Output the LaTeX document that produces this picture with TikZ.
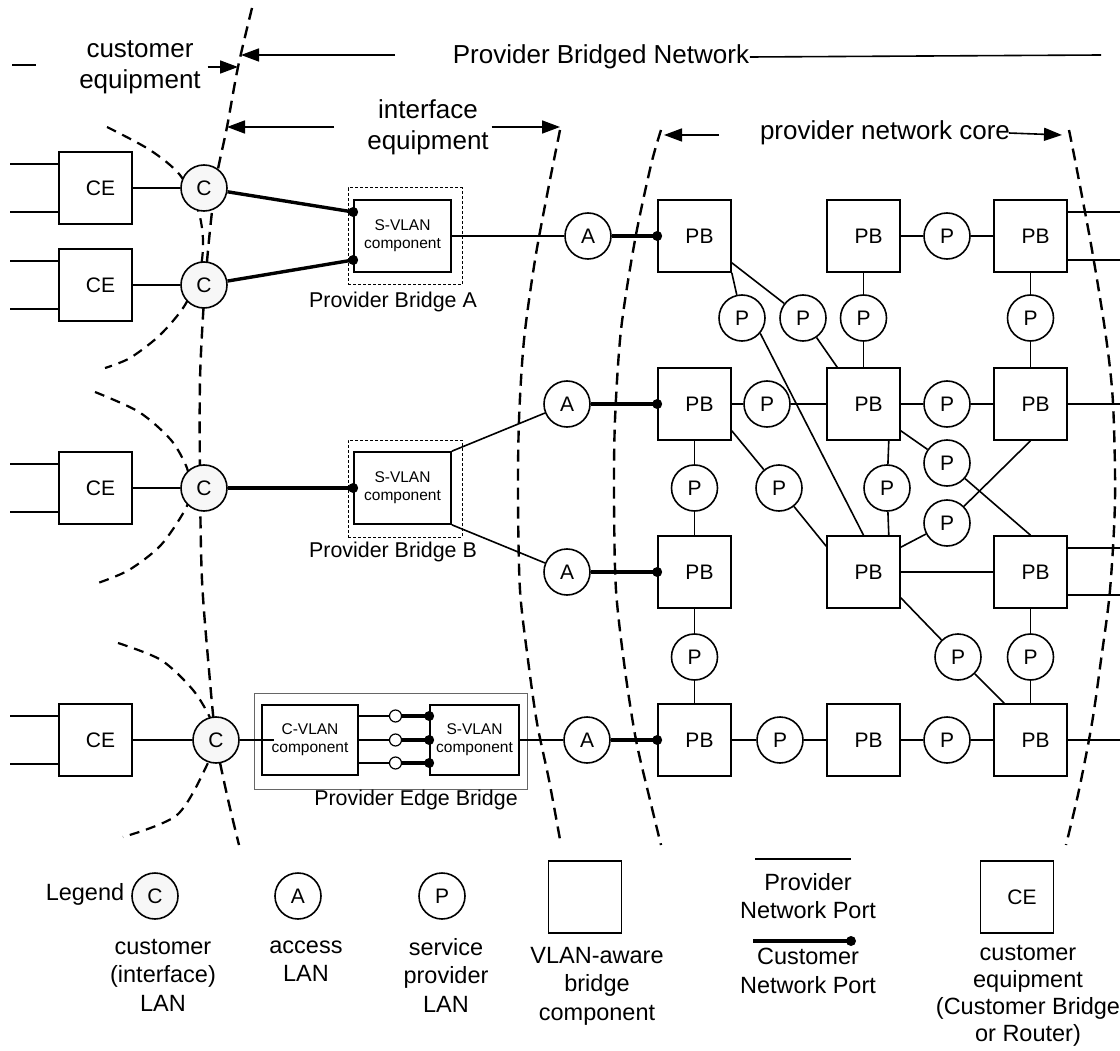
\documentclass[tikz,border=0pt]{standalone}
\usepackage{fontspec}
\setmainfont{Liberation Sans}
\usetikzlibrary{arrows.meta}
\newcommand{\fsz}[2]{\fontsize{#1}{#2}\selectfont}

\begin{document}
\begin{tikzpicture}[x=1pt, y=-1pt, line width=1.6pt, >={Triangle[length=18pt, width=13pt]},
        lan/.style={circle, draw, fill=white, minimum size=46pt, inner sep=0pt, font=\fsz{21}{21}},
        clan/.style={lan, fill=black!3},
        bridgebox/.style={draw, fill=white, minimum width=73pt, minimum height=72pt, inner sep=0pt, font=\fsz{21}{21}, execute at begin node=\hspace*{10pt}},
        vlanbox/.style={draw, fill=white, align=center, inner sep=0pt, font=\fsz{15.5}{18}},
        openport/.style={circle, draw, fill=white, line width=1.2pt, minimum size=12pt, inner sep=0pt},
        boundary/.style={line width=2.4pt, dash pattern=on 12pt off 7pt},
        lanedge/.style={line width=2.2pt, dash pattern=on 10pt off 7pt},
        cport/.style={line width=3.4pt},
        caption/.style={inner sep=0pt, font=\fsz{21.4}{21.4}},
        heading/.style={inner sep=0pt, align=center, font=\fsz{26}{31}},
        legendtext/.style={inner sep=0pt, align=center, font=\fsz{23.5}{28.5}}]
        \useasboundingbox (0,0) rectangle (1120,1051);

        % Region boundaries
        \draw[boundary] plot[smooth] coordinates {(252,8) (238,67) (227,127) (216,180) (209,240) (204,300) (200,380) (200,480) (202,580) (209,670) (216,740) (227,795) (239,845)};
        \draw[boundary] plot[smooth] coordinates {(560,130) (548,190) (535,260) (524,340) (519,420) (518,500) (520,590) (528,660) (537,723) (549,780) (561,845)};
        \draw[boundary] plot[smooth] coordinates {(661,130) (651,165) (635,240) (621,330) (615,420) (614,500) (616,590) (625,670) (636,740) (650,800) (661,845)};
        \draw[boundary] plot[smooth] coordinates {(1069,130) (1076,165) (1092,250) (1106,337) (1113,403) (1115,500) (1110,590) (1101,660) (1092,723) (1079,790) (1066,845)};

        % Customer LAN outlines
        \draw[lanedge] plot[smooth] coordinates {(107,127) (150,150) (180,175) (198,210) (203,240) (200,270) (185,305) (160,335) (130,358) (105,368)};
        \draw[lanedge] plot[smooth] coordinates {(95,392) (139,412) (171,440) (187,468) (190,488) (186,508) (161,545) (129,570) (98,583)};
        \draw[lanedge] plot[smooth] coordinates {(118,643) (161,660) (193,690) (211,720) (214,740) (207,765) (177,815) (123,837)};

        % Headings
        \node[heading] (custeq) at (140,67) {customer\\equipment};
        \node[heading] (pbn) at (601,57) {Provider Bridged Network};
        \node[heading] (ifeq) at (428,127) {interface\\equipment};
        \node[heading] (core) at (885,133) {provider network core};
        \coordinate (b1a) at (238,67);
        \coordinate (b1b) at (241,55);
        \coordinate (b1c) at (227,127);
        \coordinate (b2a) at (560,127);
        \coordinate (b3a) at (664,135);
        \coordinate (b4a) at (1062,135);
        \draw (12,65) -- (36,65);
        \draw[->] ([xshift=6pt]custeq.east) -- (b1a);
        \draw[->] (395,55) -- (b1b);
        \draw (pbn.east) -- (1101,55);
        \draw[->] (334,127) -- (b1c);
        \draw[->] ([xshift=2pt]ifeq.east) -- (b2a);
        \draw[->] (719,135) -- (b3a);
        \draw[->] ([xshift=-2pt]core.east) -- (b4a);

        % Customer equipment and customer LANs
        \node[bridgebox] (ce1) at (95.5,188) {CE};
        \node[bridgebox] (ce2) at (95.5,285) {CE};
        \node[bridgebox] (ce3) at (95.5,488) {CE};
        \node[bridgebox] (ce4) at (95.5,740) {CE};
        \node[clan] (c1) at (204,188) {C};
        \node[clan] (c2) at (204,285) {C};
        \node[clan] (c3) at (204,488) {C};
        \node[clan] (c4) at (216,740) {C};

        % Provider bridges at the edge
        \node[draw, line width=1pt, dash pattern=on 3pt off 2pt, minimum width=114pt, minimum height=97pt] (pbA) at (405,236.5) {};
        \node[vlanbox, minimum width=97pt, minimum height=72pt] (sA) at (402.5,236) {S-VLAN\\component};
        \node[caption] (capA) at (393,302) {Provider Bridge A};
        \node[draw, line width=1pt, dash pattern=on 3pt off 2pt, minimum width=114pt, minimum height=97pt] (pbB) at (405,488.5) {};
        \node[vlanbox, minimum width=97pt, minimum height=72pt] (sB) at (402.5,488) {S-VLAN\\component};
        \node[caption] (capB) at (393,552) {Provider Bridge B};
        \node[draw=black!60, line width=1pt, minimum width=273pt, minimum height=96pt] (peb) at (390.5,741) {};
        \node[vlanbox, minimum width=96pt, minimum height=70pt] (cv) at (310,740) {C-VLAN\\component};
        \node[vlanbox, minimum width=89pt, minimum height=70pt] (sv) at (474.5,740) {S-VLAN\\component};
        \node[caption] (capE) at (416,800) {Provider Edge Bridge};
        \node[openport] (o1) at (395.5,716) {};
        \node[openport] (o2) at (395.5,740) {};
        \node[openport] (o3) at (395.5,763) {};

        % Access LANs
        \node[lan] (a1) at (588,236) {A};
        \node[lan] (a2) at (567,404) {A};
        \node[lan] (a3) at (567,572) {A};
        \node[lan] (a4) at (587,740) {A};

        % Provider bridges of the core
        \node[bridgebox] (pb11) at (694.5,236) {PB};
        \node[bridgebox] (pb12) at (863.5,236) {PB};
        \node[bridgebox] (pb13) at (1030.5,236) {PB};
        \node[bridgebox] (pb21) at (694.5,404) {PB};
        \node[bridgebox] (pb22) at (863.5,404) {PB};
        \node[bridgebox] (pb23) at (1030.5,404) {PB};
        \node[bridgebox] (pb31) at (694.5,572) {PB};
        \node[bridgebox] (pb32) at (863.5,572) {PB};
        \node[bridgebox] (pb33) at (1030.5,572) {PB};
        \node[bridgebox] (pb41) at (694.5,740) {PB};
        \node[bridgebox] (pb42) at (863.5,740) {PB};
        \node[bridgebox] (pb43) at (1030.5,740) {PB};

        % Service provider LANs
        \node[lan] (p1) at (947,236) {P};
        \node[lan] (p2) at (742,318) {P};
        \node[lan] (p3) at (803,318) {P};
        \node[lan] (p4) at (863.5,318) {P};
        \node[lan] (p5) at (1030.5,318) {P};
        \node[lan] (p6) at (767,404) {P};
        \node[lan] (p7) at (947,404) {P};
        \node[lan] (p8) at (694.5,488) {P};
        \node[lan] (p9) at (779,488) {P};
        \node[lan] (p10) at (887,488) {P};
        \node[lan] (p11) at (947,463) {P};
        \node[lan] (p12) at (947,523) {P};
        \node[lan] (p13) at (694.5,657) {P};
        \node[lan] (p14) at (958,657) {P};
        \node[lan] (p15) at (1030.5,657) {P};
        \node[lan] (p16) at (780,740) {P};
        \node[lan] (p17) at (947,740) {P};

        % Customer side links
        \foreach \n in {ce1, ce2, ce3, ce4} {
            \draw ([yshift=24pt]\n.west) -- +(-48,0);
            \draw ([yshift=-24pt]\n.west) -- +(-48,0);
        }
        \draw (ce1) -- (c1);
        \draw (ce2) -- (c2);
        \draw (ce3) -- (c3);
        \draw (ce4) -- (c4);
        \draw[cport] (c1) -- ([yshift=24pt]sA.west);
        \draw[cport] (c2) -- ([yshift=-24pt]sA.west);
        \fill ([yshift=24pt]sA.west) circle (5pt);
        \fill ([yshift=-24pt]sA.west) circle (5pt);
        \draw[cport] (c3) -- (sB.west);
        \fill (sB.west) circle (5pt);
        \draw (c4) -- ([xshift=13pt]cv.west);
        \foreach \o in {o1, o2, o3} {
            \draw (cv.east |- \o) -- (\o);
            \draw[cport] (\o) -- (sv.west |- \o);
            \fill (sv.west |- \o) circle (5pt);
        }

        % Edge bridges to access LANs
        \draw (sA) -- (a1);
        \draw (sB.north east) -- (a2);
        \draw (sB.south east) -- (a3);
        \draw (sv) -- (a4);
        \draw[cport] (a1) -- (pb11.west);
        \draw[cport] (a2) -- (pb21.west);
        \draw[cport] (a3) -- (pb31.west);
        \draw[cport] (a4) -- (pb41.west);
        \fill (pb11.west) circle (5pt);
        \fill (pb21.west) circle (5pt);
        \fill (pb31.west) circle (5pt);
        \fill (pb41.west) circle (5pt);

        % Core links
        \draw (pb12) -- (p1) -- (pb13);
        \draw ([yshift=24pt]pb13.east) -- +(52,0);
        \draw ([yshift=-24pt]pb13.east) -- +(52,0);
        \draw (pb11.south east) -- (p2);
        \draw (p2.-40) -- (pb32.north);
        \draw ([yshift=10pt]pb11.south east) -- (p3);
        \draw (p3) -- ([xshift=11pt]pb22.north west);
        \draw (pb12) -- (p4) -- (pb22);
        \draw (pb13) -- (p5) -- (pb23);
        \draw (pb21) -- (p6) -- (pb22) -- (p7) -- (pb23);
        \draw (pb23.east) -- +(52,0);
        \draw (pb21) -- (p8) -- (pb31);
        \draw ([yshift=10pt]pb21.south east) -- (p9) -- ([yshift=-11pt]pb32.north west);
        \draw ([xshift=-12pt]pb22.south east) -- (p10) -- ([xshift=-12pt]pb32.north east);
        \draw ([yshift=10pt]pb22.south east) -- (p11) -- (pb33.north);
        \draw ([yshift=-12pt]pb32.north east) -- (p12) -- (pb23.south);
        \draw (pb32) -- (pb33);
        \draw ([yshift=24pt]pb33.east) -- +(52,0);
        \draw ([yshift=-23pt]pb33.east) -- +(52,0);
        \draw (pb31) -- (p13) -- (pb41);
        \draw ([yshift=11pt]pb32.south east) -- (p14) -- ([xshift=11pt]pb43.north west);
        \draw (pb33) -- (p15) -- (pb43);
        \draw (pb41) -- (p16) -- (pb42) -- (p17) -- (pb43);
        \draw (pb43.east) -- +(52,0);

        % Legend
        \node[legendtext] (legend) at (85,894) {Legend};
        \node[clan] (lc) at (155,896) {C};
        \node[lan] (la) at (298,896) {A};
        \node[lan] (lp) at (442,896) {P};
        \node[legendtext] (lct) at (163,975) {customer\\(interface)\\LAN};
        \node[legendtext] (lat) at (306,961) {access\\LAN};
        \node[legendtext] (lpt) at (446,975) {service\\provider\\LAN};
        \node[bridgebox] (lb) at (585,897) {};
        \node[legendtext] (lbt) at (597,986) {VLAN-aware\\bridge\\component};
        \coordinate (pn1) at (755,859);
        \coordinate (pn2) at (851,859);
        \draw (pn1) -- (pn2);
        \node[legendtext] (pnt) at (808,896) {Provider\\Network Port};
        \coordinate (cn1) at (753,941);
        \coordinate (cn2) at (851,941);
        \draw[cport] (cn1) -- (cn2);
        \fill (cn2) circle (5pt);
        \node[legendtext] (cnt) at (808,971) {Customer\\Network Port};
        \node[bridgebox] (lce) at (1017,897) {CE};
        \node[legendtext, font=\fsz{23.5}{27}] (lcet) at (1028,996) {customer\\equipment\\(Customer Bridge\\or Router)};
    \end{tikzpicture}
\end{document}
